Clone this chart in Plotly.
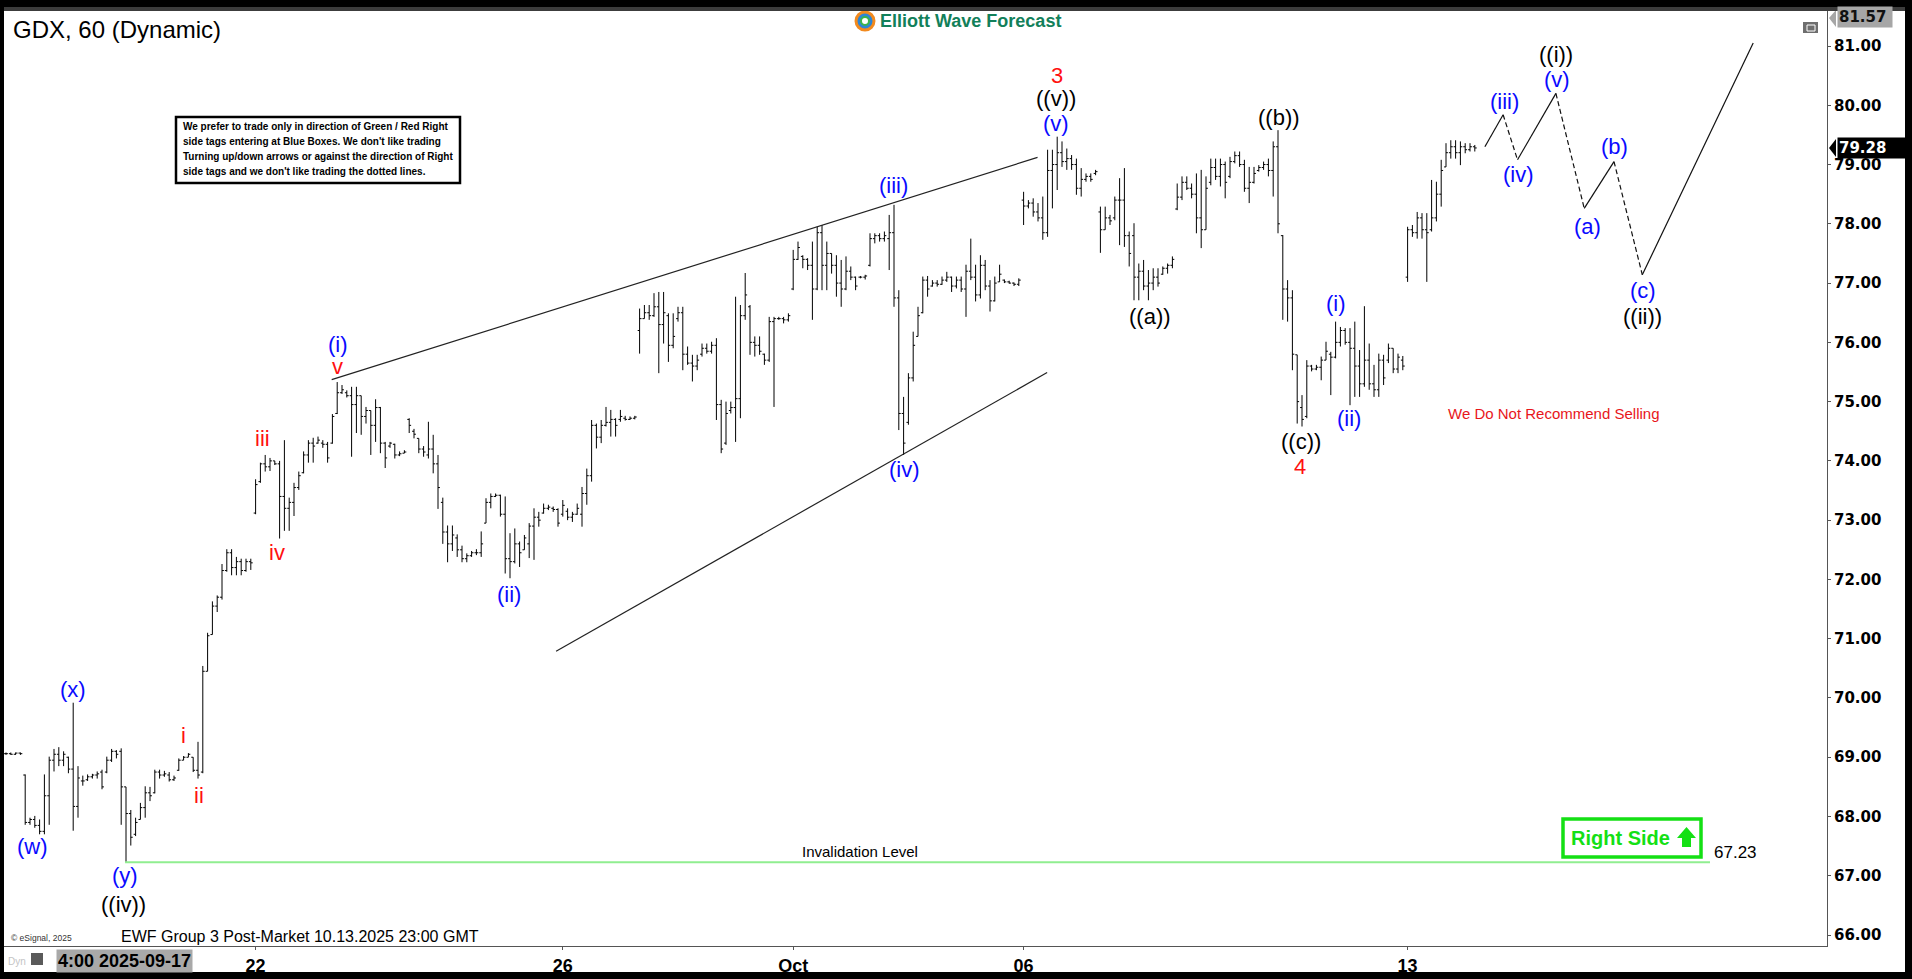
import plotly.graph_objects as go

# ---------------- DATA (hourly OHLC bars, GDX 60 min) ----------------
opens = [
69.06, 69.06, 69.05, 69.07, 68.70, 67.90, 67.95, 67.85, 67.75, 68.35,
68.95, 69.05, 68.95, 69.00, 68.80, 68.17, 68.60, 68.62, 68.67, 68.70,
68.75, 68.75, 68.95, 69.10, 69.10, 68.50, 68.05, 67.70, 67.95, 68.15,
68.40, 68.40, 68.75, 68.70, 68.70, 68.62, 68.78, 68.95, 69.00, 69.00,
68.78, 68.75, 70.45, 71.07, 71.55, 71.70, 72.15, 72.45, 72.20, 72.30,
72.15, 72.30, 73.12, 73.65, 73.95, 73.90, 74.00, 73.95, 73.40, 73.20,
73.30, 73.55, 73.80, 74.10, 74.30, 74.30, 74.30, 74.28, 74.30, 74.80,
75.15, 75.15, 75.10, 74.95, 75.10, 74.75, 74.85, 74.60, 74.90, 74.30,
74.25, 74.28, 74.10, 74.13, 74.70, 74.50, 74.38, 74.20, 74.10, 74.20,
73.95, 73.30, 72.80, 72.60, 72.70, 72.50, 72.35, 72.40, 72.45, 72.45,
72.95, 73.30, 73.40, 73.42, 73.10, 72.35, 72.30, 72.60, 72.50, 72.60,
72.90, 73.05, 73.12, 73.20, 73.20, 73.18, 73.10, 73.15, 73.05, 73.10,
73.10, 73.45, 73.75, 74.60, 74.40, 74.60, 74.65, 74.70, 74.70, 74.72,
74.70, 74.72, 76.20, 76.40, 76.50, 76.45, 76.60, 76.30, 76.45, 75.95,
76.40, 76.50, 75.80, 75.65, 75.60, 75.80, 75.90, 75.85, 75.95, 74.95,
74.30, 74.85, 74.90, 75.05, 76.45, 76.60, 76.00, 75.95, 75.80, 75.70,
76.35, 76.40, 76.40, 76.38, 76.90, 77.40, 77.45, 77.40, 77.30, 76.90,
77.85, 77.30, 77.50, 77.30, 77.00, 76.90, 77.20, 77.10, 77.10, 77.10,
77.30, 77.75, 77.80, 77.75, 77.75, 77.85, 76.75, 74.80, 74.65, 75.40,
76.10, 76.50, 77.05, 76.95, 77.00, 76.98, 77.05, 77.10, 76.95, 77.05,
76.90, 77.20, 77.10, 76.80, 77.30, 76.95, 76.70, 77.02, 77.05, 77.02,
77.00, 76.98, 78.40, 78.30, 78.35, 78.20, 78.10, 77.85, 78.90, 79.00,
79.20, 79.05, 79.10, 79.00, 78.60, 78.75, 78.80, 78.85, 78.20, 77.90,
78.10, 78.10, 78.40, 78.40, 77.80, 77.80, 77.10, 77.20, 76.95, 77.00,
77.10, 77.15, 77.25, 77.30, 78.25, 78.45, 78.70, 78.60, 78.50, 78.10,
77.90, 78.70, 78.95, 78.80, 79.00, 78.80, 79.05, 79.15, 79.00, 78.60,
78.70, 78.90, 78.95, 79.00, 78.90, 79.30, 77.80, 76.90, 76.75, 75.79,
74.90, 74.75, 75.60, 75.55, 75.58, 75.70, 75.80, 75.75, 76.00, 76.20,
76.00, 75.90, 75.60, 75.30, 75.70, 75.30, 75.20, 75.70, 75.70, 75.90,
75.55, 75.70, 77.10, 77.90, 77.85, 78.10, 77.90, 77.90, 78.10, 78.50,
78.96, 79.20, 79.30, 79.20, 79.30, 79.25, 79.30,
]
highs = [
69.08, 69.08, 69.08, 69.08, 68.71, 67.98, 68.01, 67.95, 68.71, 69.01,
69.14, 69.17, 69.10, 69.01, 69.92, 68.85, 68.69, 68.71, 68.72, 68.76,
68.79, 69.01, 69.14, 69.12, 69.15, 68.50, 68.11, 67.98, 68.23, 68.51,
68.50, 68.79, 68.79, 68.77, 68.75, 68.69, 68.98, 69.02, 69.07, 69.00,
69.26, 70.54, 71.10, 71.63, 71.73, 72.26, 72.51, 72.51, 72.38, 72.35,
72.35, 72.35, 73.69, 73.97, 74.10, 74.05, 74.00, 74.00, 74.35, 73.38,
73.63, 73.82, 74.16, 74.35, 74.39, 74.41, 74.35, 74.32, 74.79, 75.33,
75.28, 75.19, 75.25, 75.25, 75.10, 74.91, 74.85, 75.04, 74.91, 74.32,
74.32, 74.29, 74.16, 74.18, 74.72, 74.54, 74.38, 74.25, 74.66, 74.44,
74.10, 73.38, 72.91, 72.91, 72.76, 72.57, 72.44, 72.48, 72.51, 72.81,
73.37, 73.45, 73.45, 73.43, 73.40, 72.78, 72.86, 72.64, 72.75, 72.95,
73.20, 73.14, 73.28, 73.26, 73.23, 73.20, 73.34, 73.20, 73.14, 73.28,
73.56, 73.87, 74.69, 74.63, 74.69, 74.91, 74.86, 74.72, 74.86, 74.76,
74.75, 74.76, 76.57, 76.63, 76.63, 76.83, 76.85, 76.85, 76.49, 76.49,
76.60, 76.60, 75.93, 75.79, 75.79, 75.98, 75.98, 76.01, 76.07, 75.03,
75.00, 75.00, 76.77, 76.63, 77.17, 76.63, 76.10, 76.10, 75.81, 76.43,
76.43, 76.43, 76.43, 76.49, 77.56, 77.70, 77.47, 77.42, 77.70, 77.95,
77.98, 77.70, 77.50, 77.47, 77.39, 77.45, 77.28, 77.11, 77.12, 77.14,
77.84, 77.84, 77.84, 77.87, 78.15, 78.32, 76.88, 75.08, 75.48, 76.18,
76.60, 77.11, 77.12, 77.05, 77.05, 77.11, 77.19, 77.11, 77.11, 77.11,
77.31, 77.75, 77.31, 77.47, 77.39, 77.05, 77.11, 77.31, 77.06, 77.04,
77.01, 77.08, 78.54, 78.40, 78.43, 78.35, 78.46, 79.25, 79.25, 79.47,
79.39, 79.27, 79.16, 79.10, 78.94, 78.85, 78.85, 78.91, 78.29, 78.29,
78.15, 78.46, 78.77, 78.94, 77.87, 78.01, 77.33, 77.39, 77.22, 77.25,
77.25, 77.28, 77.33, 77.45, 78.68, 78.80, 78.80, 78.68, 78.85, 78.91,
78.80, 79.10, 79.10, 79.10, 79.05, 79.13, 79.22, 79.22, 79.08, 78.96,
78.96, 78.99, 79.05, 79.10, 79.39, 79.58, 77.81, 77.05, 76.88, 75.79,
75.11, 75.70, 75.62, 75.62, 75.76, 76.01, 75.84, 76.35, 76.26, 76.24,
76.24, 76.35, 75.87, 76.61, 75.98, 75.62, 75.81, 75.79, 75.98, 75.90,
75.81, 75.77, 77.95, 77.98, 78.20, 78.18, 78.18, 78.74, 78.71, 79.08,
79.36, 79.41, 79.41, 79.39, 79.36, 79.36, 79.33,
]
lows = [
69.04, 69.04, 69.04, 69.04, 67.86, 67.86, 67.81, 67.70, 67.70, 67.86,
68.76, 68.85, 68.85, 68.73, 67.76, 67.98, 68.52, 68.60, 68.64, 68.64,
68.46, 68.73, 68.92, 68.98, 67.86, 67.23, 67.51, 67.67, 67.95, 67.98,
68.26, 68.39, 68.64, 68.67, 68.59, 68.60, 68.77, 68.95, 69.00, 68.75,
68.64, 68.73, 70.45, 71.07, 71.45, 71.66, 72.13, 72.07, 72.07, 72.07,
72.13, 72.16, 73.10, 73.63, 73.82, 73.83, 73.93, 72.69, 72.82, 72.82,
73.07, 73.51, 73.79, 73.97, 73.97, 74.29, 74.22, 73.97, 74.29, 74.79,
75.13, 75.07, 74.07, 74.47, 74.44, 74.63, 74.10, 74.32, 74.13, 73.88,
74.22, 74.04, 74.08, 74.13, 74.47, 74.38, 74.13, 74.07, 74.04, 73.79,
73.19, 72.60, 72.29, 72.48, 72.38, 72.29, 72.29, 72.38, 72.41, 72.38,
72.95, 73.20, 73.39, 73.06, 72.10, 72.02, 72.27, 72.21, 72.50, 72.36,
72.33, 72.89, 73.11, 73.17, 73.14, 72.89, 73.06, 73.00, 72.97, 73.09,
72.89, 73.26, 73.65, 74.21, 74.30, 74.58, 74.41, 74.41, 74.66, 74.68,
74.69, 74.70, 75.81, 76.40, 76.38, 76.43, 75.48, 75.98, 75.67, 75.90,
76.35, 75.53, 75.62, 75.34, 75.53, 75.76, 75.81, 75.81, 74.69, 74.13,
74.27, 74.80, 74.32, 74.72, 76.38, 75.79, 75.76, 75.79, 75.62, 75.67,
74.91, 76.38, 76.32, 76.35, 76.88, 77.39, 77.25, 77.22, 76.38, 76.88,
76.88, 76.88, 77.16, 76.77, 76.60, 76.88, 77.05, 76.88, 77.08, 77.06,
77.28, 77.67, 77.70, 77.70, 77.22, 76.60, 74.52, 74.10, 74.61, 75.34,
76.10, 76.49, 76.77, 76.94, 76.94, 76.97, 77.02, 76.85, 76.91, 76.85,
76.43, 77.05, 76.69, 76.74, 76.88, 76.52, 76.69, 77.02, 77.00, 76.99,
76.95, 76.95, 77.98, 78.26, 78.12, 78.04, 77.73, 77.78, 78.26, 78.57,
78.96, 78.91, 78.91, 78.49, 78.46, 78.71, 78.71, 78.82, 77.51, 77.90,
77.98, 78.06, 77.64, 77.61, 77.28, 76.71, 76.71, 76.88, 76.71, 76.88,
76.94, 77.14, 77.16, 77.25, 78.23, 78.40, 78.57, 78.43, 77.84, 77.59,
77.90, 78.65, 78.74, 78.63, 78.43, 78.77, 79.02, 78.96, 78.54, 78.35,
78.68, 78.88, 78.91, 78.80, 78.46, 77.84, 76.38, 76.35, 75.53, 74.63,
74.58, 74.72, 75.51, 75.53, 75.36, 75.70, 75.11, 75.73, 75.93, 75.96,
74.94, 75.08, 75.08, 75.25, 75.20, 75.08, 75.08, 75.28, 75.65, 75.48,
75.48, 75.53, 77.02, 77.78, 77.75, 77.75, 77.02, 77.87, 78.04, 78.29,
78.96, 79.10, 79.10, 78.99, 79.19, 79.22, 79.22,
]
closes = [
69.06, 69.05, 69.07, 69.06, 67.90, 67.95, 67.85, 67.75, 68.35, 68.95,
69.05, 68.95, 69.05, 68.80, 68.17, 68.65, 68.60, 68.67, 68.70, 68.72,
68.50, 68.95, 69.10, 69.05, 68.50, 68.05, 67.65, 67.90, 68.15, 68.40,
68.35, 68.75, 68.70, 68.72, 68.62, 68.65, 68.95, 69.00, 69.05, 68.78,
68.70, 70.45, 71.05, 71.55, 71.70, 72.15, 72.45, 72.20, 72.30, 72.15,
72.30, 72.28, 73.60, 73.95, 73.90, 74.00, 73.95, 73.40, 73.20, 73.30,
73.55, 73.75, 74.10, 74.30, 74.25, 74.35, 74.28, 74.05, 74.75, 75.15,
75.20, 75.10, 74.95, 75.10, 74.75, 74.85, 74.60, 74.90, 74.30, 74.05,
74.30, 74.10, 74.12, 74.15, 74.60, 74.45, 74.20, 74.15, 74.20, 73.95,
73.55, 72.80, 72.60, 72.75, 72.50, 72.35, 72.40, 72.45, 72.45, 72.60,
73.30, 73.40, 73.42, 73.10, 72.35, 72.30, 72.60, 72.45, 72.70, 72.90,
73.05, 73.00, 73.20, 73.22, 73.18, 72.95, 73.25, 73.05, 73.10, 73.20,
73.45, 73.75, 74.60, 74.40, 74.60, 74.65, 74.70, 74.60, 74.75, 74.70,
74.72, 74.74, 76.40, 76.50, 76.45, 76.60, 76.30, 76.50, 75.95, 76.10,
76.50, 75.80, 75.65, 75.60, 75.70, 75.90, 75.85, 75.95, 74.95, 74.20,
74.80, 74.90, 75.05, 76.45, 76.80, 76.00, 75.95, 75.85, 75.70, 76.35,
76.40, 76.40, 76.38, 76.45, 77.40, 77.60, 77.40, 77.30, 76.90, 77.85,
77.30, 77.50, 77.30, 77.00, 76.90, 77.20, 77.10, 76.95, 77.10, 77.12,
77.75, 77.80, 77.75, 77.80, 77.85, 76.75, 74.80, 74.30, 75.40, 75.95,
76.45, 77.05, 76.90, 77.00, 76.98, 77.05, 77.10, 76.95, 77.05, 76.90,
77.20, 77.10, 76.80, 77.30, 76.95, 76.70, 77.00, 77.15, 77.02, 77.00,
76.98, 77.05, 78.30, 78.35, 78.20, 78.10, 77.85, 78.90, 79.00, 79.20,
79.05, 79.10, 79.00, 78.60, 78.75, 78.80, 78.75, 78.88, 77.90, 78.10,
78.05, 78.40, 78.40, 77.80, 77.50, 77.10, 77.20, 76.95, 77.00, 77.10,
77.00, 77.25, 77.30, 77.40, 78.45, 78.70, 78.60, 78.50, 78.10, 77.90,
78.60, 78.95, 78.80, 79.00, 78.70, 79.05, 79.15, 79.00, 78.60, 78.70,
78.85, 78.95, 79.00, 78.90, 79.30, 78.00, 76.90, 76.75, 75.80, 75.00,
74.70, 75.60, 75.55, 75.58, 75.70, 75.85, 75.75, 76.00, 76.20, 76.00,
75.90, 75.60, 75.30, 75.70, 75.30, 75.20, 75.70, 75.40, 75.90, 75.55,
75.75, 75.60, 77.90, 77.85, 78.10, 77.90, 77.85, 78.10, 78.50, 78.90,
79.20, 79.30, 79.20, 79.30, 79.25, 79.30, 79.28,
]

# x-axis date ticks (bar index of first bar of each labelled session)
date_tick_idx = [52, 116, 164, 212, 292]
date_tick_text = ["22", "26", "Oct", "06", "13"]

price_ticks = list(range(66, 82))
last_price = 79.28
top_price = 81.57
invalidation_level = 67.23

# wedge (ending diagonal) trend lines
wedge_upper_x = [67.85, 214.9]
wedge_upper_y = [75.37, 79.12]
wedge_lower_x = [114.6, 216.9]
wedge_lower_y = [70.79, 75.49]
inval_x = [24.8, 355.0]

# projected path (solid = impulse legs, dashed = corrective legs)
proj_x = [308.1, 311.9, 314.9, 322.9, 328.8, 335.0, 340.9, 364.0]
proj_y = [79.30, 79.84, 79.08, 80.20, 78.26, 79.05, 77.14, 81.05]

BLUE = "#0a0aff"
RED = "#ff1010"
BLACK = "#000000"
wave_text = ["(w)", "(x)", "(y)", "((iv))", "i", "ii", "iii", "iv", "v", "(i)",
             "(ii)", "(iii)", "(iv)", "3", "((v))", "(v)", "((a))", "((b))", "((c))", "4",
             "(i)", "(ii)", "(iii)", "(iv)", "(v)", "((i))", "(a)", "(b)", "(c)", "((ii))"]
wave_x = [5.6, 13.9, 24.8, 24.4, 36.9, 40.2, 53.5, 56.4, 69.1, 69.1,
          104.8, 184.8, 187.1, 218.9, 218.75, 218.75, 238.3, 265.2, 269.8, 269.6,
          277.0, 279.8, 312.1, 315.2, 323.1, 322.9, 329.4, 335.0, 341.0, 341.0]
wave_y = [67.49, 70.15, 67.01, 66.51, 69.36, 68.36, 74.37, 72.45, 75.60, 75.96,
          71.74, 78.64, 73.86, 80.51, 80.11, 79.70, 76.43, 79.80, 74.32, 73.90,
          76.65, 74.72, 80.07, 78.84, 80.44, 80.85, 77.96, 79.31, 76.87, 76.43]
wave_color = [BLUE, BLUE, BLUE, BLACK, RED, RED, RED, RED, RED, BLUE,
              BLUE, BLUE, BLUE, RED, BLACK, BLUE, BLACK, BLACK, BLACK, RED,
              BLUE, BLUE, BLUE, BLUE, BLUE, BLACK, BLUE, BLUE, BLUE, BLACK]

# ---------------- LAYOUT GEOMETRY ----------------
W, H = 1912, 979
ML, MR, MT, MB = 4, 85, 11, 33
PW, PH = W - ML - MR, H - MT - MB
Y_TOP_PX, Y_BOT_PX = MT, H - MB


def px(X):
    return (X - ML) / PW


def py(Y):
    return (Y_BOT_PX - Y) / PH


ARIAL = "Liberation Sans, Arial, sans-serif"
DEJAVU = "DejaVu Sans, Verdana, sans-serif"

fig = go.Figure()

fig.add_trace(go.Ohlc(
    x=list(range(len(opens))), open=opens, high=highs, low=lows, close=closes,
    increasing=dict(line=dict(color="black", width=1)),
    decreasing=dict(line=dict(color="black", width=1)),
    tickwidth=0.4, hoverinfo="skip", showlegend=False,
))

for xs, ys in [(wedge_upper_x, wedge_upper_y), (wedge_lower_x, wedge_lower_y)]:
    fig.add_trace(go.Scatter(x=xs, y=ys, mode="lines", line=dict(color="#222", width=1.2),
                             hoverinfo="skip", showlegend=False))

fig.add_trace(go.Scatter(x=inval_x, y=[invalidation_level] * 2, mode="lines",
                         line=dict(color="#90ee90", width=2), hoverinfo="skip", showlegend=False))

for i in range(len(proj_x) - 1):
    fig.add_trace(go.Scatter(
        x=proj_x[i:i + 2], y=proj_y[i:i + 2], mode="lines",
        line=dict(color="#111", width=1.2, dash="solid" if i % 2 == 0 else "5px,3px"),
        hoverinfo="skip", showlegend=False))

ann = []
for t, x, y, c in zip(wave_text, wave_x, wave_y, wave_color):
    ann.append(dict(x=x, y=y, xref="x", yref="y", text=t, showarrow=False,
                    font=dict(family=ARIAL, size=22, color=c), xanchor="center", yanchor="middle"))


def ptext(text, X, Y, size, color="black", family=ARIAL, xanchor="left", weight="normal", **kw):
    d = dict(x=px(X), y=py(Y), xref="paper", yref="paper", text=text, showarrow=False,
             font=dict(family=family, size=size, color=color, weight=weight),
             xanchor=xanchor, yanchor="middle")
    d.update(kw)
    ann.append(d)


ptext("GDX, 60 (Dynamic)", 11, 29, 24)
ptext("Elliott Wave Forecast", 878, 21, 18, color="#12805a", weight="bold")
info_lines = ["We prefer to trade only in direction of Green / Red Right",
              "side tags entering at Blue Boxes. We don't like trading",
              "Turning up/down arrows or against the direction of Right",
              "side tags and we don't like trading the dotted lines."]
for k, line in enumerate(info_lines):
    ptext(line, 181, 127 + k * 14.7, 10, weight="bold")
ptext("Invalidation Level", 860, 851, 15, xanchor="center")
ptext(f"{invalidation_level:.2f}", 1712, 852, 17)
ptext("We Do Not Recommend Selling", 1553, 413, 15, color="#e8161b", xanchor="center")
ptext("Right Side", 1569, 838, 20, color="#14e014", weight="bold")
ptext("EWF Group 3 Post-Market 10.13.2025 23:00 GMT", 119, 936, 16)
ptext("© eSignal, 2025", 9, 938, 8.5, color="#333")
ptext("Dyn", 6, 961, 10, color="#c4c4c4")
ptext("4:00 2025-09-17", 124, 961, 18, weight="bold", xanchor="center",
      bgcolor="#a9a9a9", borderpad=1)
# price flags on the right axis
ptext(f"{last_price:.2f}", 1837, 148, 15, color="white", family=DEJAVU, weight="bold",
      bgcolor="black", borderpad=1, width=66, align="left")
ptext(f"{top_price:.2f}", 1837, 17, 15, color="#111", family=DEJAVU, weight="bold",
      bgcolor="#a6a6a6", borderpad=1, width=52, align="left")

shapes = []


def prect(X0, Y0, X1, Y1, fill=None, line_color=None, lw=0, layer="above"):
    shapes.append(dict(type="rect", xref="paper", yref="paper",
                       x0=px(X0), x1=px(X1), y0=py(Y1), y1=py(Y0),
                       fillcolor=fill, line=dict(color=line_color, width=lw), layer=layer))


def ppath(points, fill):
    d = "M " + " L ".join(f"{px(a):.5f},{py(b):.5f}" for a, b in points) + " Z"
    shapes.append(dict(type="path", xref="paper", yref="paper", path=d,
                       fillcolor=fill, line=dict(width=0), layer="above"))


# info box and Right Side box
prect(176, 117, 460, 183, fill="rgba(0,0,0,0)", line_color="black", lw=2.5)
prect(1563, 819, 1701, 857, fill="rgba(0,0,0,0)", line_color="#14e014", lw=3.5)
ppath([(1677, 838), (1686.5, 827), (1696, 838), (1691, 838), (1691, 847), (1682, 847), (1682, 838)], "#14e014")
# price flag arrows
ppath([(1829, 148), (1836, 139), (1836, 157)], "black")
ppath([(1829, 18), (1836, 10), (1836, 27)], "#a6a6a6")
# logo icon
shapes.append(dict(type="circle", xref="paper", yref="paper", x0=px(856), x1=px(874),
                   y0=py(30), y1=py(12), fillcolor="#2d86d6", line=dict(color="#f28a1e", width=3)))
shapes.append(dict(type="circle", xref="paper", yref="paper", x0=px(861), x1=px(869),
                   y0=py(25), y1=py(17), fillcolor="#ffffff", line=dict(color="#3bb44a", width=2)))
# small chart icons
prect(1803, 22, 1818, 33, fill="#6e6e6e")
prect(1807, 25, 1815, 31, fill="rgba(0,0,0,0)", line_color="white", lw=1)
prect(31, 953, 43, 965, fill="#5a5a5a")
# window frame
prect(0, 0, W, 7, fill="black")
prect(0, 7, W, 11, fill="#3c3c3c")
prect(0, 0, 4, H, fill="black")
prect(1905, 0, W, H, fill="black")
prect(0, 972, W, H, fill="black")

fig.update_layout(
    width=W, height=H,
    margin=dict(l=ML, r=MR, t=MT, b=MB),
    paper_bgcolor="white", plot_bgcolor="white",
    showlegend=False,
    annotations=ann, shapes=shapes,
    xaxis=dict(
        range=[(ML - 6) / 4.8, (ML + PW - 6) / 4.8],
        rangeslider=dict(visible=False),
        showgrid=False, zeroline=False,
        tickmode="array", tickvals=date_tick_idx, ticktext=date_tick_text,
        ticks="outside", ticklen=3, tickcolor="#555",
        showline=True, linecolor="#555", linewidth=1,
        tickfont=dict(family=ARIAL, size=18, color="black", weight="bold"),
        fixedrange=True,
    ),
    yaxis=dict(
        side="right",
        range=[81 - (Y_BOT_PX - 46) / 59.27, 81 + (46 - Y_TOP_PX) / 59.27],
        showgrid=False, zeroline=False,
        tickmode="array", tickvals=price_ticks, ticktext=[f"{v:.2f}" for v in price_ticks],
        ticks="outside", ticklen=3, tickcolor="#555",
        showline=True, linecolor="#555", linewidth=1,
        tickfont=dict(family=DEJAVU, size=15, color="black", weight="bold"),
        fixedrange=True,
    ),
)

fig.write_html("out.html", config={"displayModeBar": False},
               post_script="document.body.style.margin='0px';")
